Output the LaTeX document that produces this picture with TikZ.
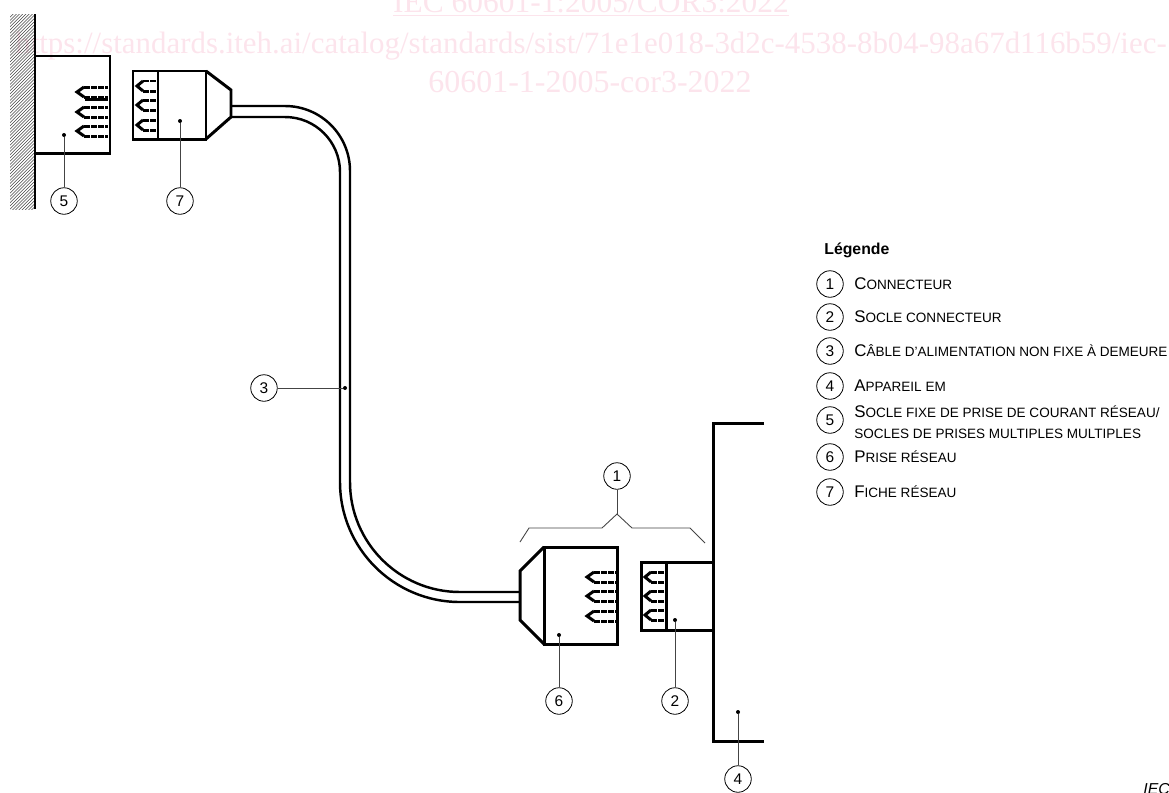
\documentclass[tikz,border=0pt]{standalone}
\usepackage{xcolor}
\usepackage{fontspec}
\usepackage{tikz}
\setmainfont{Liberation Sans}
\newfontfamily\markfont{Liberation Serif}
\definecolor{markpink}{HTML}{FCE4EC}
\definecolor{leadgray}{HTML}{444444}
\newcommand{\fsc}[2]{{\fontsize{9.6}{11.3}\selectfont #1}{\fontsize{7.7}{11.3}\selectfont #2}}
\tikzset{
  heavy/.style={line width=1.7pt,line join=miter},
  cablewire/.style={line width=1.4pt},
  thinline/.style={line width=0.5pt,draw=leadgray},
  numcirc/.style={circle,draw=black,line width=0.45pt,fill=white,minimum size=0.53cm,inner sep=0pt,font=\fontsize{8.8}{9}\selectfont},
  dotmark/.style={circle,fill=black,minimum size=0.08cm,inner sep=0pt},
  legtext/.style={anchor=west,inner sep=0pt,align=left},
  marktext/.style={text=markpink,font=\markfont\fontsize{18.2}{22}\selectfont,inner sep=0pt,anchor=base}
}
\begin{document}
\begin{tikzpicture}[x=0.02cm,y=-0.02cm]
\useasboundingbox (0,0) rectangle (1169,792);
\begin{scope}
  \clip (0,0) rectangle (1169,792);
  \node[marktext,font=\markfont\fontsize{17.9}{22}\selectfont] (markA) at (591,12) {\underline{IEC 60601-1:2005/COR3:2022}};
  \node[marktext,font=\markfont\fontsize{17.6}{22}\selectfont] (markB) at (591,53) {https://standards.iteh.ai/catalog/standards/sist/71e1e018-3d2c-4538-8b04-98a67d116b59/iec-};
  \node[marktext] (markC) at (590,92) {60601-1-2005-cor3-2022};
  \node[anchor=base west,inner sep=0pt,font=\itshape\fontsize{9}{9}\selectfont] (iecmark) at (1143,794.5) {IEC};
\end{scope}
\begin{scope}
  \clip (10,14) rectangle (34,209);
  \foreach \k in {0,3.2,...,225}
    \draw[line width=0.3pt,draw=leadgray] (10,14+\k) -- (34,14+\k-24);
\end{scope}
\draw[heavy] (35,14) -- (35,209);
\draw[heavy] (35,56) -- (110,56) -- (110,153) -- (35,153);
\draw[heavy] (158,71) -- (133,71) -- (133,139) -- (158,139);
\draw[heavy] (158,71) -- (206,71) -- (206,139) -- (158,139) -- cycle;
\draw[heavy] (206,71) -- (231,90) -- (231,117) -- (206,139);
\draw[heavy] (617,547) -- (544,547) -- (544,644) -- (617,644) -- cycle;
\draw[heavy] (544,547) -- (520,571) -- (520,620) -- (544,644);
\draw[heavy] (666,562) -- (641,562) -- (641,630) -- (666,630) -- cycle;
\draw[heavy] (666,562) -- (713,562);
\draw[heavy] (666,630) -- (713,630);
\draw[heavy] (764,423) -- (713,423) -- (713,741) -- (764,741);
\foreach \tx/\bx/\ex/\ty in {77/84/108/92,77/84/108/112,77/84/108/131,137/143/157/86,137/143/157/105,137/143/157/125,587/594/616/577,587/594/616/596,587/594/616/616,645/651/664/577,645/651/664/596,645/651/664/615}{
  \draw[heavy] (\bx,\ty-5) -- (\tx,\ty) -- (\bx,\ty+5);
  \draw[heavy,dash pattern=on 3.4pt off 0.6pt] (\bx,\ty-5) -- (\ex,\ty-5);
  \draw[heavy,dash pattern=on 3.4pt off 0.6pt] (\bx,\ty+5) -- (\ex,\ty+5);
}
\draw[heavy] (85,99) -- (108,99);
\draw[cablewire] (231,106) [rounded corners=1.3cm] -- (350,106) [rounded corners=2.2cm] -- (350,592) -- (520,592);
\draw[cablewire] (231,117) [rounded corners=1.1cm] -- (340,117) [rounded corners=2.4cm] -- (340,602) -- (520,602);
\node[numcirc] (c1) at (617,476) {1};
\coordinate (b1) at (617,514);
\draw[thinline] (c1) -- (b1);
\draw[thinline] (520,542) -- (529,528) -- (602,528) -- (b1) -- (632,528) -- (690,528) -- (705,543);
\node[numcirc] (c2) at (675,701) {2};
\node[dotmark] (d2) at (675,620) {};
\draw[thinline] (d2) -- (c2);
\node[numcirc] (c3) at (264,388) {3};
\node[dotmark] (d3) at (345,388) {};
\draw[thinline] (c3) -- (d3);
\node[numcirc] (c4) at (738,779) {4};
\node[dotmark] (d4) at (738,712) {};
\draw[thinline] (d4) -- (c4);
\node[numcirc] (c5) at (64,201) {5};
\node[dotmark] (d5) at (64,135) {};
\draw[thinline] (d5) -- (c5);
\node[numcirc] (c6) at (559,701) {6};
\node[dotmark] (d6) at (559,635) {};
\draw[thinline] (d6) -- (c6);
\node[numcirc] (c7) at (180,201) {7};
\node[dotmark] (d7) at (180,121) {};
\draw[thinline] (d7) -- (c7);
\node[anchor=west,inner sep=0pt,font=\bfseries\fontsize{9}{9}\selectfont] (legtitle) at (824,250) {Légende};
\node[numcirc] (l1) at (830,284) {1};
\node[legtext] (t1) at (854,284) {\fsc{C}{ONNECTEUR}};
\node[numcirc] (l2) at (830,317) {2};
\node[legtext] (t2) at (854,317) {\fsc{S}{OCLE CONNECTEUR}};
\node[numcirc] (l3) at (830,351) {3};
\node[legtext] (t3) at (854,351) {\fsc{C}{ÂBLE D'ALIMENTATION NON FIXE À DEMEURE}};
\node[numcirc] (l4) at (830,386) {4};
\node[legtext] (t4) at (854,386) {\fsc{A}{PPAREIL EM}};
\node[numcirc] (l5) at (830,420) {5};
\node[legtext] (t5) at (854,422) {\fsc{S}{OCLE FIXE DE PRISE DE COURANT RÉSEAU/}\\\fsc{}{SOCLES DE PRISES MULTIPLES MULTIPLES}};
\node[numcirc] (l6) at (830,457) {6};
\node[legtext] (t6) at (854,457) {\fsc{P}{RISE RÉSEAU}};
\node[numcirc] (l7) at (830,492) {7};
\node[legtext] (t7) at (854,492) {\fsc{F}{ICHE RÉSEAU}};
\end{tikzpicture}
\end{document}
